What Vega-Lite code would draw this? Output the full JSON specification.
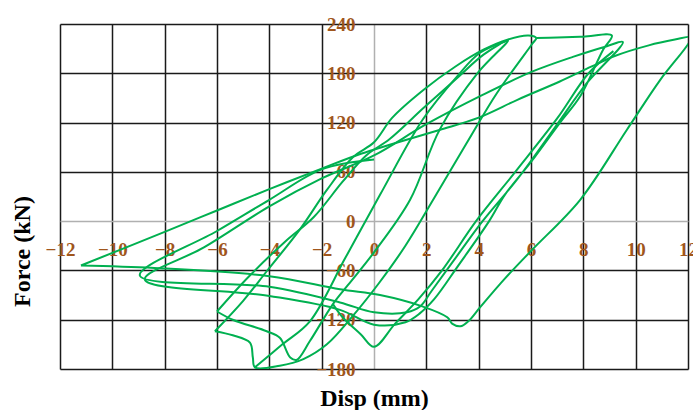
{
  "$schema": "https://vega.github.io/schema/vega-lite/v6.json",
  "autosize": "none",
  "width": 628,
  "height": 345,
  "padding": {"left": 60, "top": 24, "right": 5, "bottom": 41},
  "background": "white",
  "config": {"view": {"stroke": null}},
  "data": {"values": [
    {"s":"a","i":1,"d":-6.08,"f":-134},{"s":"a","i":2,"d":-5.0,"f":-97},{"s":"a","i":3,"d":-4.1,"f":-61},{"s":"a","i":4,"d":-2.83,"f":-10},{"s":"a","i":5,"d":-1.8,"f":38},{"s":"a","i":6,"d":-0.8,"f":78},{"s":"a","i":7,"d":0,"f":96},{"s":"a","i":8,"d":0.7,"f":126},{"s":"a","i":9,"d":1.9,"f":160},{"s":"a","i":10,"d":3.1,"f":188},{"s":"a","i":11,"d":4.2,"f":209},{"s":"a","i":12,"d":5.1,"f":221},{"s":"a","i":13,"d":5.9,"f":226},{"s":"a","i":14,"d":6.2,"f":223},{"s":"a","i":15,"d":6.05,"f":216},{"s":"a","i":16,"d":4.7,"f":156},{"s":"a","i":17,"d":3.56,"f":96},{"s":"a","i":18,"d":2.26,"f":26},{"s":"a","i":19,"d":1.2,"f":-30},{"s":"a","i":20,"d":0.2,"f":-75},{"s":"a","i":21,"d":-0.8,"f":-115},{"s":"a","i":22,"d":-1.8,"f":-150},{"s":"a","i":23,"d":-2.7,"f":-168},{"s":"a","i":24,"d":-3.6,"f":-176},{"s":"a","i":25,"d":-4.55,"f":-178},{"s":"a","i":26,"d":-4.63,"f":-166},{"s":"a","i":27,"d":-4.74,"f":-148},{"s":"a","i":28,"d":-5.4,"f":-139},{"s":"a","i":29,"d":-6.08,"f":-134},
    {"s":"b","i":1,"d":-6.0,"f":-110},{"s":"b","i":2,"d":-4.8,"f":-68},{"s":"b","i":3,"d":-3.4,"f":-25},{"s":"b","i":4,"d":-2.3,"f":5},{"s":"b","i":5,"d":-1.2,"f":48},{"s":"b","i":6,"d":-0.3,"f":80},{"s":"b","i":7,"d":0.6,"f":100},{"s":"b","i":8,"d":1.9,"f":138},{"s":"b","i":9,"d":3.2,"f":175},{"s":"b","i":10,"d":4.2,"f":203},{"s":"b","i":11,"d":5.12,"f":220},{"s":"b","i":12,"d":3.98,"f":181},{"s":"b","i":13,"d":2.52,"f":112},{"s":"b","i":14,"d":1.38,"f":26},{"s":"b","i":15,"d":0,"f":-38},{"s":"b","i":16,"d":-1.0,"f":-78},{"s":"b","i":17,"d":-1.57,"f":-101},{"s":"b","i":18,"d":-2.45,"f":-146},{"s":"b","i":19,"d":-2.96,"f":-169},{"s":"b","i":20,"d":-3.2,"f":-166},{"s":"b","i":21,"d":-3.6,"f":-142},{"s":"b","i":22,"d":-4.1,"f":-134},{"s":"b","i":23,"d":-5.4,"f":-120},{"s":"b","i":24,"d":-6.0,"f":-110},
    {"s":"d","i":1,"d":6.2,"f":223},{"s":"d","i":2,"d":7.0,"f":223.5},{"s":"d","i":3,"d":8.0,"f":224.5},{"s":"d","i":4,"d":9.09,"f":226},{"s":"d","i":5,"d":8.76,"f":209},{"s":"d","i":6,"d":7.88,"f":152},{"s":"d","i":7,"d":7.11,"f":120},{"s":"d","i":8,"d":6.0,"f":72},{"s":"d","i":9,"d":5.0,"f":32},{"s":"d","i":10,"d":4.4,"f":0},{"s":"d","i":11,"d":3.2,"f":-55},{"s":"d","i":12,"d":2.3,"f":-95},{"s":"d","i":13,"d":1.76,"f":-112},{"s":"d","i":14,"d":1.2,"f":-123},{"s":"d","i":15,"d":0,"f":-126},{"s":"d","i":16,"d":-1.3,"f":-108},{"s":"d","i":17,"d":-4,"f":-91},{"s":"d","i":18,"d":-8.76,"f":-71},{"s":"d","i":19,"d":-6.5,"f":-32},{"s":"d","i":20,"d":-4,"f":18},{"s":"d","i":21,"d":-2,"f":52},{"s":"d","i":22,"d":0,"f":80},{"s":"d","i":23,"d":2,"f":118},{"s":"d","i":24,"d":4.17,"f":154},{"s":"d","i":25,"d":6.04,"f":182},{"s":"d","i":26,"d":7.6,"f":200},{"s":"d","i":27,"d":8.9,"f":213},{"s":"d","i":28,"d":9.51,"f":218},{"s":"d","i":29,"d":8.13,"f":168},{"s":"d","i":30,"d":7.0,"f":118},{"s":"d","i":31,"d":5.5,"f":52},{"s":"d","i":32,"d":4.15,"f":0},{"s":"d","i":33,"d":3.0,"f":-50},{"s":"d","i":34,"d":2.2,"f":-85},{"s":"d","i":35,"d":1.76,"f":-104},{"s":"d","i":36,"d":1.26,"f":-111},{"s":"d","i":37,"d":0,"f":-111},{"s":"d","i":38,"d":-1.3,"f":-99},{"s":"d","i":39,"d":-4,"f":-80},{"s":"d","i":40,"d":-8.95,"f":-66},{"s":"d","i":41,"d":-6,"f":-12},{"s":"d","i":42,"d":-4,"f":26},{"s":"d","i":43,"d":-2,"f":63},{"s":"d","i":44,"d":0,"f":75},
    {"s":"e","i":1,"d":-11.2,"f":-54},{"s":"e","i":2,"d":-8,"f":-13},{"s":"e","i":3,"d":-6,"f":13},{"s":"e","i":4,"d":-4,"f":39},{"s":"e","i":5,"d":-2,"f":64},{"s":"e","i":6,"d":-0.5,"f":82},{"s":"e","i":7,"d":0.6,"f":93},{"s":"e","i":8,"d":2.5,"f":111},{"s":"e","i":9,"d":4,"f":126},{"s":"e","i":10,"d":5.5,"f":148},{"s":"e","i":11,"d":7.1,"f":170},{"s":"e","i":12,"d":8.3,"f":188},{"s":"e","i":13,"d":9.2,"f":201},{"s":"e","i":14,"d":10.5,"f":214},{"s":"e","i":15,"d":11.5,"f":221},{"s":"e","i":16,"d":12.1,"f":224},{"s":"e","i":17,"d":12.05,"f":218},{"s":"e","i":18,"d":10.94,"f":172},{"s":"e","i":19,"d":9.66,"f":111},{"s":"e","i":20,"d":7.88,"f":26},{"s":"e","i":21,"d":6.04,"f":-35},{"s":"e","i":22,"d":5.0,"f":-70},{"s":"e","i":23,"d":4.05,"f":-105},{"s":"e","i":24,"d":3.6,"f":-122},{"s":"e","i":25,"d":3.3,"f":-128},{"s":"e","i":26,"d":3.0,"f":-125},{"s":"e","i":27,"d":2.8,"f":-117},{"s":"e","i":28,"d":1.87,"f":-104},{"s":"e","i":29,"d":0.23,"f":-90},{"s":"e","i":30,"d":-1.3,"f":-83},{"s":"e","i":31,"d":-4,"f":-67},{"s":"e","i":32,"d":-8.4,"f":-57},{"s":"e","i":33,"d":-11.2,"f":-54},
    {"s":"f","i":1,"d":-1.57,"f":-101},{"s":"f","i":2,"d":-1.2,"f":-117},{"s":"f","i":3,"d":-0.5,"f":-138},{"s":"f","i":4,"d":0,"f":-153},{"s":"f","i":5,"d":0.8,"f":-125},{"s":"f","i":6,"d":1.7,"f":-95},{"s":"f","i":7,"d":2.6,"f":-60},{"s":"f","i":8,"d":3.9,"f":0},{"s":"f","i":9,"d":5.4,"f":60},{"s":"f","i":10,"d":7.0,"f":125},{"s":"f","i":11,"d":8.2,"f":180},{"s":"f","i":12,"d":9.15,"f":207},
    {"s":"g","i":1,"d":-4.55,"f":-178},{"s":"g","i":2,"d":-3.5,"f":-150},{"s":"g","i":3,"d":-2.45,"f":-122},{"s":"g","i":4,"d":-1.1,"f":-45},{"s":"g","i":5,"d":0.23,"f":32},{"s":"g","i":6,"d":1.87,"f":124},{"s":"g","i":7,"d":3.17,"f":176},{"s":"g","i":8,"d":4.05,"f":205},{"s":"g","i":9,"d":5.12,"f":220}
  ]},
  "mark": {"type": "line", "color": "#00B050", "strokeWidth": 2, "clip": true, "interpolate": "catmull-rom"},
  "encoding": {
    "x": {"field": "d", "type": "quantitative",
      "scale": {"domain": [-12, 12], "nice": false, "zero": false},
      "axis": {"title": "Disp (mm)", "values": [-12,-10,-8,-6,-4,-2,0,2,4,6,8,10,12],
        "grid": true, "gridColor": {"condition": {"test": "datum.value === 0", "value": "#b0b0b0"}, "value": "#1a1a1a"}, "gridWidth": 1.5, "gridOpacity": 1,
        "domain": false, "ticks": false, "labelPadding": -129, "labelFlush": false, "labelOverlap": false, "labelBound": false,
        "labelFont": "Liberation Serif", "labelFontSize": 19, "labelFontWeight": "bold", "labelColor": "#A0561C",
        "titleFont": "Liberation Serif", "titleFontSize": 24, "titleFontWeight": "bold", "titleColor": "#000000",
        "titleBaseline": "alphabetic", "titleY": 36}},
    "y": {"field": "f", "type": "quantitative",
      "scale": {"domain": [-180, 240], "nice": false, "zero": false},
      "axis": {"title": "Force (kN)", "values": [-180,-120,-60,0,60,120,180,240],
        "grid": true, "gridColor": {"condition": {"test": "datum.value === 0", "value": "#b0b0b0"}, "value": "#1a1a1a"}, "gridWidth": 1.5, "gridOpacity": 1,
        "domain": false, "ticks": false, "labelPadding": -295, "labelAlign": "right", "labelBaseline": "middle", "labelFlush": false, "labelOverlap": false, "labelBound": false,
        "labelFont": "Liberation Serif", "labelFontSize": 19, "labelFontWeight": "bold", "labelColor": "#A0561C",
        "titleFont": "Liberation Serif", "titleFontSize": 24, "titleFontWeight": "bold", "titleColor": "#000000",
        "titleAngle": 270, "titleBaseline": "middle", "titleAlign": "center", "titleX": -38, "titleY": 227}},
    "detail": {"field": "s"},
    "order": {"field": "i", "type": "quantitative"}
  }
}
